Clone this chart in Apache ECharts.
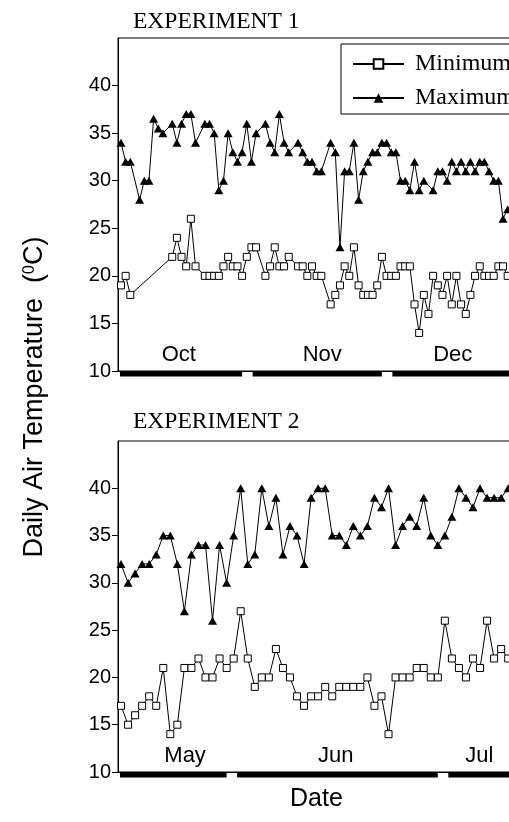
<!DOCTYPE html>
<html><head><meta charset="utf-8">
<script src="https://cdn.jsdelivr.net/npm/echarts@6/dist/echarts.min.js"></script>
<style>html,body{margin:0;padding:0;background:#fff;overflow:hidden}#c{width:509px;height:822px}</style>
</head><body><div id="c"></div>
<script>
// ---------- DATA ----------
// Experiment 1: day numbers counted from 1 October (1 Nov = 32, 1 Dec = 62)
const exp1MaxDay = [5,6,7,9,10,11,12,13,14,16,17,18,19,20,21,23,24,25,26,27,28,29,30,31,32,33,34,36,37,38,39,40,41,43,44,45,46,47,48,50,51,52,53,54,55,56,57,58,59,60,61,62,63,64,65,66,67,68,69,70,72,73,74,75,76,77,78,79,80,81,82,83,84,85,86,87,88];
const exp1MaxVal = [34,32,32,28,30,30,36.5,35.5,35,36,34,36,37,37,34,36,36,35,29,30,35,33,32,33,36,32,35,36,34,33,37,34,33,34,33,32,32,31,31,34,33,23,31,31,34,28,31,32,33,33,34,34,33,33,30,30,29,32,29,30,29,31,31,30,32,31,32,31,32,31,32,32,31,30,30,26,27];
const exp1MinDay = [5,6,7,16,17,18,19,20,21,23,24,25,26,27,28,29,30,31,32,33,34,36,37,38,39,40,41,43,44,45,46,47,48,50,51,52,53,54,55,56,57,58,59,60,61,62,63,64,65,66,67,68,69,70,71,72,73,74,75,76,77,78,79,80,81,82,83,84,85,86,87,88];
const exp1MinVal = [19,20,18,22,24,22,21,26,21,20,20,20,20,21,22,21,21,20,22,23,23,20,21,23,21,21,22,21,21,20,21,20,20,17,18,19,21,20,23,19,18,18,18,19,22,20,20,20,21,21,21,17,14,18,16,20,19,18,20,17,20,17,16,18,20,21,20,20,20,21,21,20];
const exp1Months = ['Oct','Nov','Dec'];
const exp1MonthEnd = [31,61,92];
const exp1MonthLabelDay = [17.4,48.2,76.2];

// Experiment 2: day numbers counted from 1 May (1 Jun = 32, 1 Jul = 62)
const exp2Day = [16,17,18,19,20,21,22,23,24,25,26,27,28,29,30,31,32,33,34,35,36,37,38,39,40,41,42,43,44,45,46,47,48,49,50,51,52,53,54,55,56,57,58,59,60,61,62,63,64,65,66,67,68,69,70,71];
const exp2MaxVal = [32,30,31,32,32,33,35,35,32,27,33,34,34,26,34,30,35,40,32,33,40,36,39,33,36,35,32,39,40,40,35,35,34,36,35,36,39,38,40,34,36,37,36,39,35,34,35,37,40,39,38,40,39,39,39,40];
const exp2MinVal = [17,15,16,17,18,17,21,14,15,21,21,22,20,20,22,21,22,27,22,19,20,20,23,21,20,18,17,18,18,19,18,19,19,19,19,20,17,18,14,20,20,20,21,21,20,20,26,22,21,20,22,21,26,22,23,22];
const exp2Months = ['May','Jun','Jul'];
const exp2MonthEnd = [31,61,92];
const exp2MonthLabelDay = [25.1,46.5,66.9];

const yTicks = [10,15,20,25,30,35,40];

// ---------- CHART ----------
const SANS = '"Liberation Sans", Arial, sans-serif';
const SERIF = '"Liberation Serif", "Times New Roman", serif';
const BAR_GAP = 10.5, BAR_H = 5.5;

const pairs = (xs, ys) => xs.map((x, i) => [x, ys[i]]);

function xAxisFor(idx, min, max, names, labelDays) {
  return {
    type: 'value', gridIndex: idx, min: min, max: max,
    axisLine: {lineStyle: {color: '#000', width: 1}},
    axisTick: {show: false}, splitLine: {show: false},
    axisLabel: {
      inside: true, margin: 5, color: '#000', fontFamily: SANS, fontSize: 22,
      customValues: labelDays,
      formatter: v => { const k = labelDays.indexOf(v); return k >= 0 ? names[k] : ''; }
    }
  };
}
function yAxisFor(idx) {
  return {
    type: 'value', gridIndex: idx, min: 10, max: 45, interval: 5,
    axisLine: {show: true, lineStyle: {color: '#000', width: 1}},
    axisTick: {show: true, length: 6, lineStyle: {color: '#000'}, customValues: yTicks},
    axisLabel: {color: '#000', fontFamily: SANS, fontSize: 20, margin: 7, customValues: yTicks},
    splitLine: {show: false}
  };
}
function minSeries(idx, data) {
  return {
    name: 'Minimum', type: 'line', xAxisIndex: idx, yAxisIndex: idx, data: data,
    symbol: 'rect', symbolSize: 7, showAllSymbol: true,
    itemStyle: {color: '#fff', borderColor: '#000', borderWidth: 1},
    lineStyle: {color: '#000', width: 1}, animation: false
  };
}
function maxSeries(idx, data) {
  return {
    name: 'Maximum', type: 'line', xAxisIndex: idx, yAxisIndex: idx, data: data,
    symbol: 'triangle', symbolSize: [9, 8], showAllSymbol: true,
    itemStyle: {color: '#000'},
    lineStyle: {color: '#000', width: 1}, animation: false
  };
}
function monthBars(idx, ends) {
  return {
    type: 'custom', xAxisIndex: idx, yAxisIndex: idx, silent: true, animation: false,
    data: ends.map((e, i) => [i === 0 ? -100 : ends[i - 1], e]),
    renderItem: function (params, api) {
      const cs = params.coordSys;
      const yPx = cs.y + cs.height;
      let x0 = api.coord([api.value(0), 10])[0] + BAR_GAP;
      let x1 = api.coord([api.value(1), 10])[0];
      x0 = Math.max(x0, cs.x + 2);
      x1 = Math.min(x1, cs.x + cs.width);
      if (x1 <= x0) return null;
      return {type: 'rect', shape: {x: x0, y: yPx, width: x1 - x0, height: BAR_H}, style: {fill: '#000'}};
    }
  };
}

const chart = echarts.init(document.getElementById('c'), null, {renderer: 'canvas'});
chart.setOption({
  backgroundColor: '#fff',
  animation: false,
  title: [
    {text: 'EXPERIMENT 1', left: 133, top: 10, padding: 0, textStyle: {fontFamily: SERIF, fontWeight: 'normal', fontSize: 23.5, color: '#000'}},
    {text: 'EXPERIMENT 2', left: 133, top: 410, padding: 0, textStyle: {fontFamily: SERIF, fontWeight: 'normal', fontSize: 23.5, color: '#000'}},
    {text: 'Date', left: 290, top: 787, padding: 0, textStyle: {fontFamily: SANS, fontWeight: 'normal', fontSize: 25, color: '#000'}}
  ],
  legend: {
    orient: 'vertical', left: 341, top: 44, itemWidth: 51, itemHeight: 12, itemGap: 10,
    padding: [8, 30, 4, 11], borderColor: '#000', borderWidth: 1, borderRadius: 0,
    textStyle: {fontFamily: SERIF, fontSize: 24, color: '#000', padding: [0, 0, 0, 6]},
    data: ['Minimum', 'Maximum']
  },
  grid: [
    {left: 118, top: 38, height: 333, width: 399, outerBoundsMode: 'none', containLabel: false, show: true, borderColor: '#000', borderWidth: 1},
    {left: 118, top: 441, height: 331, width: 399, outerBoundsMode: 'none', containLabel: false, show: true, borderColor: '#000', borderWidth: 1}
  ],
  xAxis: [
    xAxisFor(0, 4.36, 90, exp1Months, exp1MonthLabelDay),
    xAxisFor(1, 15.57, 72.25, exp2Months, exp2MonthLabelDay)
  ],
  yAxis: [yAxisFor(0), yAxisFor(1)],
  graphic: [{
    type: 'text', x: 35, y: 397, rotation: Math.PI / 2,
    style: {
      text: 'Daily Air Temperature  ({sup|0}C)',
      fontFamily: SANS, fontSize: 27, fill: '#000', align: 'center', verticalAlign: 'middle',
      rich: {sup: {fontFamily: SANS, fontSize: 16, fill: '#000', padding: [0, 0, 11, 0]}}
    }
  }],
  series: [
    monthBars(0, exp1MonthEnd),
    monthBars(1, exp2MonthEnd),
    minSeries(0, pairs(exp1MinDay, exp1MinVal)),
    maxSeries(0, pairs(exp1MaxDay, exp1MaxVal)),
    minSeries(1, pairs(exp2Day, exp2MinVal)),
    maxSeries(1, pairs(exp2Day, exp2MaxVal))
  ]
});
</script></body></html>
